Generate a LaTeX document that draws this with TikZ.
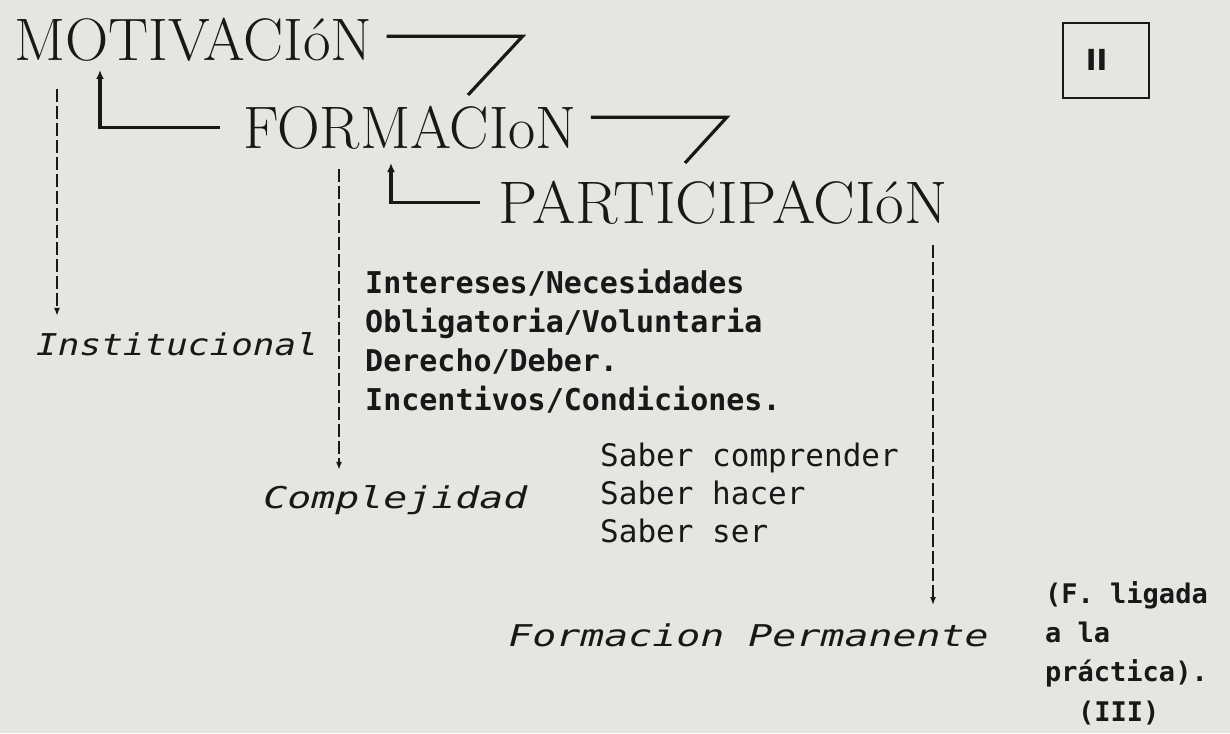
\documentclass[tikz,border=0pt]{standalone}
\usepackage{fontspec}
\usetikzlibrary{matrix,positioning,arrows.meta}
\newfontfamily\maquina{DejaVu Sans Mono}[BoldFont={DejaVu Sans Mono Bold},ItalicFont={DejaVu Sans Mono Oblique}]
\newfontfamily\barras{DejaVu Sans}
\definecolor{papel}{RGB}{229,229,226}
\definecolor{tinta}{RGB}{24,24,24}
\tikzset{
  titulo/.style={font=\fontsize{60}{60}\selectfont,anchor=base west,inner sep=0pt},
  etiqueta/.style={font=\maquina\itshape\fontsize{30}{30}\selectfont,anchor=base west,inner sep=0pt},
  lista/.style={font=\maquina\bfseries\fontsize{30}{30}\selectfont,text height=22pt,text depth=17pt,anchor=base west,inner sep=0pt},
  saber/.style={font=\maquina\fontsize{31}{31}\selectfont,text height=23pt,text depth=15pt,anchor=base west,inner sep=0pt},
  nota/.style={font=\maquina\bfseries\fontsize{27}{27}\selectfont,text height=21pt,text depth=18pt,anchor=base west,inner sep=0pt},
  tabla/.style={anchor=north west,inner sep=0pt,row sep=0pt},
  trazo/.style={line width=3.2pt},
  punteado/.style={line width=1.4pt,dash pattern=on 13pt off 4pt,-{Latex[length=8pt,width=6pt]}},
  caja/.style={draw,line width=1.8pt,anchor=north west,minimum width=86pt,minimum height=75pt,
    text width=40pt,inner xsep=21pt,align=left,font=\barras\bfseries\fontsize{29}{29}\selectfont}
}
\newcommand\siete[3]{\draw[trazo] ([xshift=14pt,yshift=#3]#1.east) -- ++(136,0) -- (#2);}
\newcommand\escuadra[3]{\draw[trazo,-{Latex[length=9pt,width=8pt]}] ([xshift=-#3]#1.west) -| (#2);}

\begin{document}
\begin{tikzpicture}[x=1pt,y=-1pt,color=tinta]
    \useasboundingbox (0,0) rectangle (1230,733);
    \fill[papel] (0,0) rectangle (1230,733);

    \node(motiv)[titulo] at (14,61) {MOTIVACIóN};
    \node(form)[titulo,xscale=.985] at (243,148) {FORMACIoN};
    \node(part)[titulo,xscale=1.04] at (498,223) {PARTICIPACIóN};
    \node(num)[caja] at (1062,22) {II};

    \coordinate(g1) at (468,95);
    \coordinate(g2) at (685,163);
    \siete{motiv}{g1}{4pt}
    \siete{form}{g2}{10pt}

    \coordinate(m1) at (100,70);
    \coordinate(f1) at (391,163);
    \escuadra{form}{m1}{23pt}
    \escuadra{part}{f1}{18pt}

    \node(inst)[etiqueta,xscale=1.2] at (36,355) {Institucional};
    \node(compl)[etiqueta,xscale=1.33] at (263,508) {Complejidad};
    \node(perm)[etiqueta,xscale=1.33] at (508,646) {Formacion Permanente};

    \matrix(intereses)[tabla,nodes={lista}] at (365,271) {
        \node(i1){Intereses/Necesidades}; \\
        \node(i2){Obligatoria/Voluntaria}; \\
        \node(i3){Derecho/Deber.}; \\
        \node(i4){Incentivos/Condiciones.}; \\
    };
    \matrix(saberes)[tabla,nodes={saber}] at (600,443) {
        \node(s1){Saber comprender}; \\
        \node(s2){Saber hacer}; \\
        \node(s3){Saber ser}; \\
    };
    \matrix(notas)[tabla,nodes={nota}] at (1045,582) {
        \node(n1){(F. ligada}; \\
        \node(n2){a la}; \\
        \node(n3){práctica).}; \\[1pt]
        \node(n4)[xshift=33pt]{(III)}; \\
    };

    \coordinate(d1) at (57,89);
    \coordinate(d2) at (339,169);
    \coordinate(d3) at (933,245);
    \draw[punteado,shorten >=16pt] (d1) -- (d1 |- inst.north);
    \draw[punteado,shorten >=15pt] (d2) -- (d2 |- compl.north);
    \draw[punteado,shorten >=18pt] (d3) -- (d3 |- perm.north);
\end{tikzpicture}
\end{document}
